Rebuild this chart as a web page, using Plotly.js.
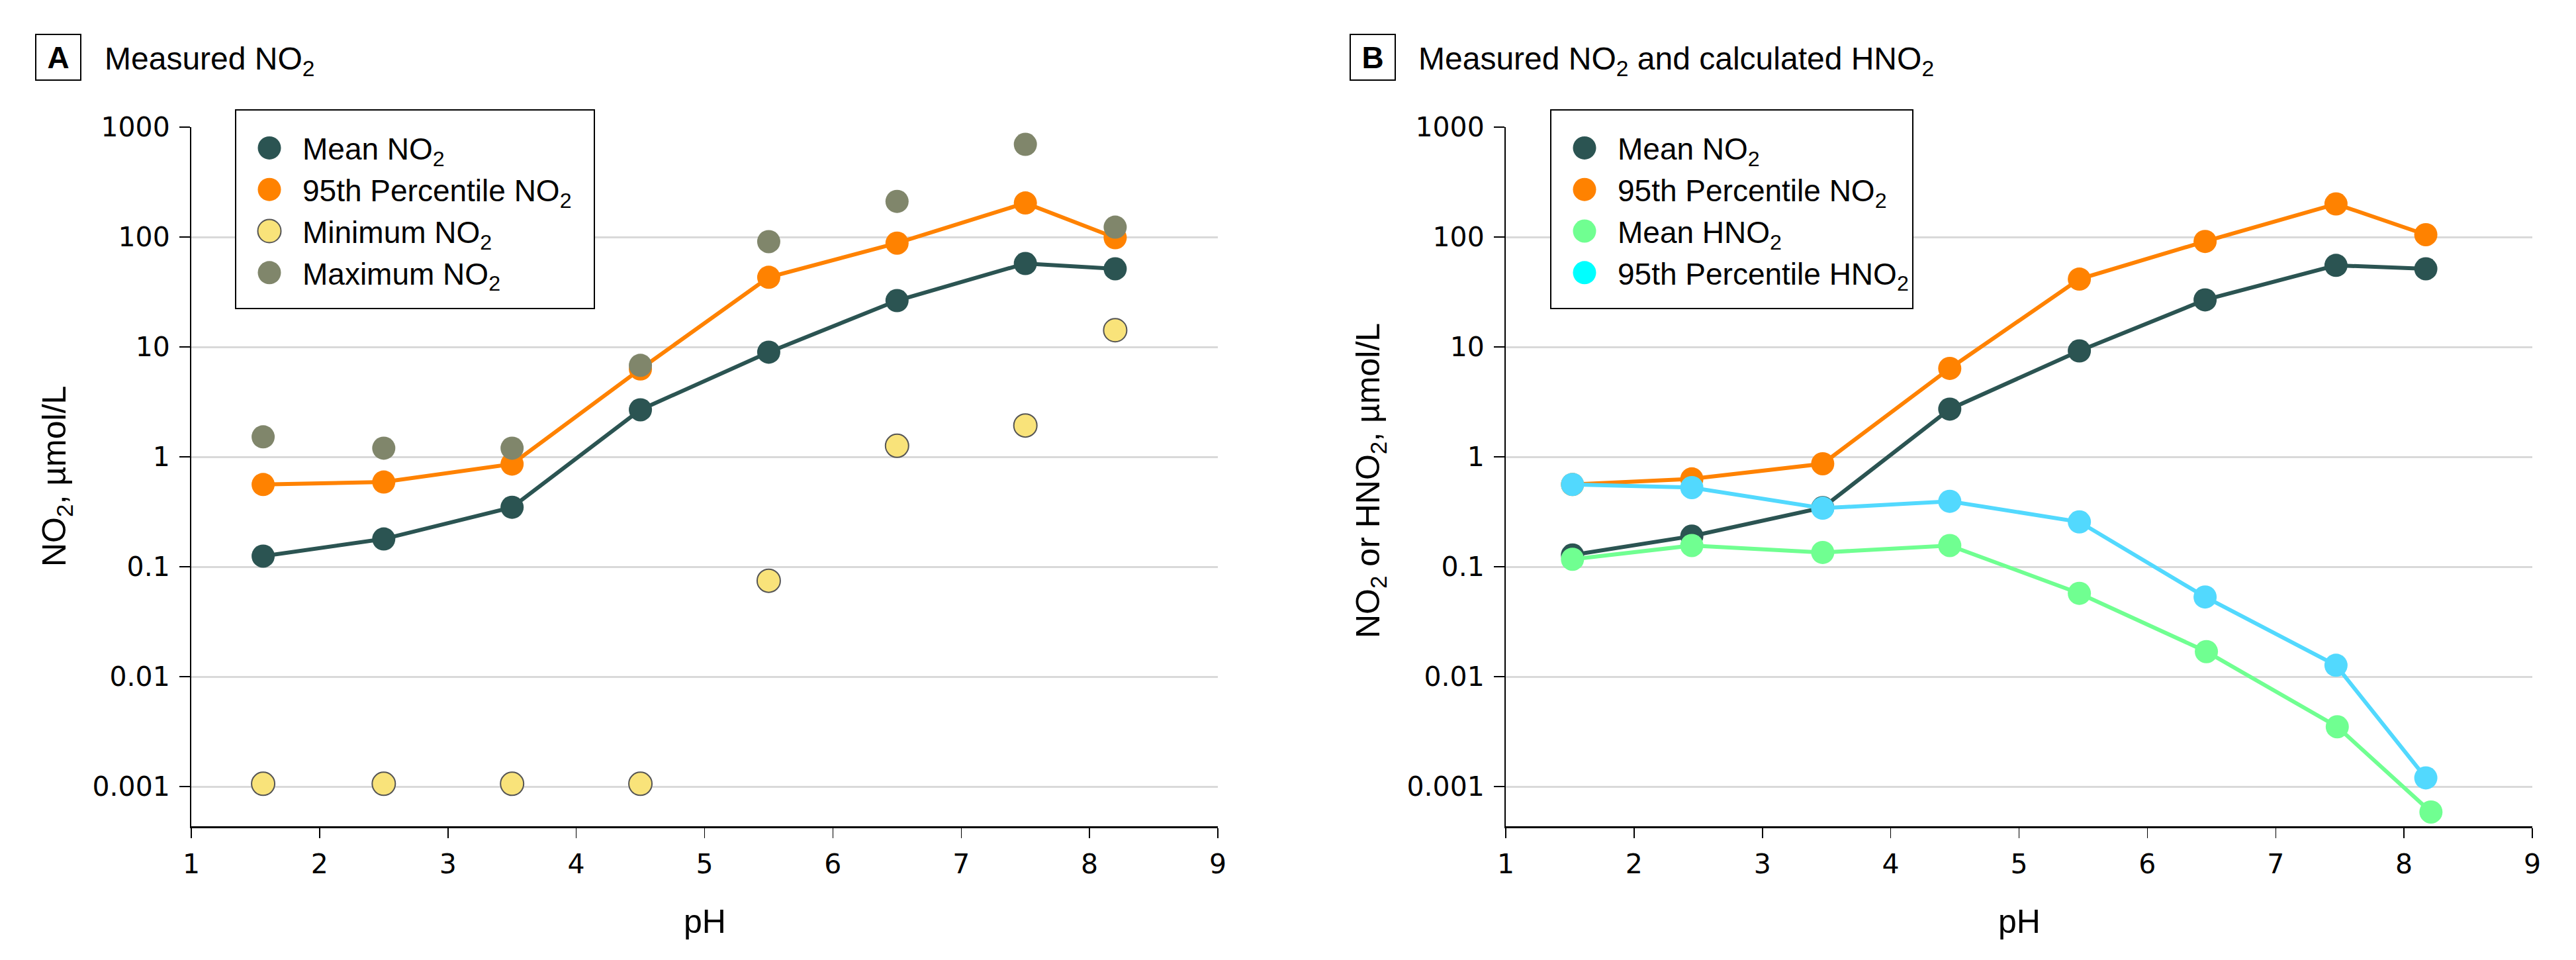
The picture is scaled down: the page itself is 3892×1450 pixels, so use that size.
<!DOCTYPE html>
<html>
<head>
<meta charset="utf-8">
<script src="https://cdn.plot.ly/plotly-3.0.1.min.js"></script>
<style>
  html, body { margin: 0; padding: 0; background: #ffffff; }
  #chart { width: 3892px; height: 1450px; }
</style>
</head>
<body>
<div id="chart"></div>
<script>
// ---- Panel A data ----
const pH_A = [1.56, 2.5, 3.5, 4.5, 5.5, 6.5, 7.5, 8.2];
const meanNO2_A = [0.125, 0.179, 0.348, 2.68, 8.96, 26.4, 57.4, 51.4];
const p95NO2_A = [0.56, 0.59, 0.86, 6.3, 43, 88, 204, 98.6];
const minNO2_A = [0.00106, 0.00106, 0.00106, 0.00106, 0.0746, 1.26, 1.93, 14.2];
const maxNO2_A = [1.52, 1.2, 1.2, 6.8, 90.8, 211, 697, 123];

// ---- Panel B data ----
const pH_B = [1.52, 2.45, 3.47, 4.46, 5.47, 6.45, 7.47, 8.17];
const pH_B_meanHNO2 = [1.52, 2.45, 3.47, 4.46, 5.47, 6.46, 7.48, 8.21];
const meanNO2_B = [0.128, 0.19, 0.345, 2.72, 9.2, 26.8, 55.2, 51.4];
const p95NO2_B = [0.56, 0.63, 0.865, 6.38, 41.4, 91.2, 200, 105];
const meanHNO2_B = [0.117, 0.156, 0.135, 0.156, 0.0573, 0.0169, 0.0035, 0.000587];
const p95HNO2_B = [0.561, 0.525, 0.341, 0.394, 0.256, 0.0531, 0.0127, 0.0012];

// ---- Axis ticks ----
const xTicks = [1, 2, 3, 4, 5, 6, 7, 8, 9];
const yTickVals = [0.001, 0.01, 0.1, 1, 10, 100, 1000];
const yTickText = ["0.001", "0.01", "0.1", "1", "10", "100", "1000"];

// ---- Labels ----
const namesA = ["Mean NO<sub>2</sub>", "95th Percentile NO<sub>2</sub>", "Minimum NO<sub>2</sub>", "Maximum NO<sub>2</sub>"];
const namesB = ["Mean NO<sub>2</sub>", "95th Percentile NO<sub>2</sub>", "Mean HNO<sub>2</sub>", "95th Percentile HNO<sub>2</sub>"];

const C_MEAN = "#2b5452", C_P95 = "#ff8200", C_MIN = "#f9e37a", C_MAX = "#80866b",
      C_HMEAN = "#70ff91", C_HP95 = "#52d9fe", C_HP95_LEG = "#00ffff";

const MS = 35, LW = 6;
const FONT = "Liberation Sans, Arial, sans-serif";
const TICKFONT = "DejaVu Sans, sans-serif";

function lineTrace(x, y, name, color, xa, ya, leg, grp) {
  return { x: x, y: y, name: name, type: "scatter", mode: "lines+markers",
    line: { color: color, width: LW },
    marker: { color: color, size: MS, line: { width: 0 } },
    xaxis: xa, yaxis: ya, legend: leg, legendgroup: grp, hoverinfo: "x+y" };
}
function dotTrace(x, y, name, color, outline, xa, ya, leg, grp) {
  return { x: x, y: y, name: name, type: "scatter", mode: "markers",
    marker: { color: color, size: MS, line: { width: outline ? 2 : 0, color: "#555555" } },
    xaxis: xa, yaxis: ya, legend: leg, legendgroup: grp, hoverinfo: "x+y" };
}

const data = [
  lineTrace(pH_A, meanNO2_A, namesA[0], C_MEAN, "x", "y", "legend", "a1"),
  lineTrace(pH_A, p95NO2_A, namesA[1], C_P95, "x", "y", "legend", "a2"),
  dotTrace(pH_A, minNO2_A, namesA[2], C_MIN, true, "x", "y", "legend", "a3"),
  dotTrace(pH_A, maxNO2_A, namesA[3], C_MAX, false, "x", "y", "legend", "a4"),
  lineTrace(pH_B, meanNO2_B, namesB[0], C_MEAN, "x2", "y2", "legend2", "b1"),
  lineTrace(pH_B, p95NO2_B, namesB[1], C_P95, "x2", "y2", "legend2", "b2"),
  lineTrace(pH_B_meanHNO2, meanHNO2_B, namesB[2], C_HMEAN, "x2", "y2", "legend2", "b3"),
  lineTrace(pH_B, p95HNO2_B, namesB[3], C_HP95, "x2", "y2", "legend2", "b4")
];

const W = 3892, H = 1450;
const yTop = 192, yBot = 1248;
const xA0 = 289, xA1 = 1840, xB0 = 2275, xB1 = 3826;
const yDom = [1 - yBot / H, 1 - yTop / H];
const yRange = [-3.361, 3];
const PAD_TOP = 20, PAD_BOT = 16, PAD_RIGHT = 34;

function xAxis(dom, anchor) {
  return { domain: [dom[0] / W, dom[1] / W], anchor: anchor, range: [1, 9],
    tickvals: xTicks, ticktext: xTicks.map(String), showgrid: false, zeroline: false,
    showline: true, linecolor: "#000", linewidth: 3, ticks: "outside", ticklen: 15,
    tickwidth: 1.5, tickcolor: "#000", tickfont: { family: TICKFONT, size: 41, color: "#000" },
    ticklabelstandoff: 4, fixedrange: true };
}
function yAxis(anchor) {
  return { domain: yDom, anchor: anchor, type: "log", range: yRange,
    tickvals: yTickVals, ticktext: yTickText, showgrid: true, gridcolor: "#d9d9d9", gridwidth: 3,
    zeroline: false, showline: true, linecolor: "#000", linewidth: 2, ticks: "outside",
    ticklen: 16, tickwidth: 2, tickcolor: "#000",
    tickfont: { family: TICKFONT, size: 41, color: "#000" }, ticklabelstandoff: 6, fixedrange: true };
}

function legendCfg(xpx) {
  return { x: xpx / W, y: 1 - (165 + PAD_TOP) / H, xanchor: "left", yanchor: "top",
    bgcolor: "#ffffff", bordercolor: "#000000", borderwidth: 2,
    font: { family: FONT, size: 46, color: "#000" }, itemwidth: 90,
    tracegroupgap: 12, traceorder: "normal", itemclick: false, itemdoubleclick: false };
}

const annotations = [
  { xref: "paper", yref: "paper", x: 88 / W, y: 1 - 86.5 / H, xanchor: "center", yanchor: "middle",
    text: "<b>A</b>", showarrow: false, font: { family: FONT, size: 46, color: "#000" },
    width: 66, height: 67, borderwidth: 2, bordercolor: "#000", borderpad: 0 },
  { xref: "paper", yref: "paper", x: 156 / W, y: 1 - 92 / H, xanchor: "left", yanchor: "middle",
    text: "Measured NO<sub>2</sub>", showarrow: false, font: { family: FONT, size: 48, color: "#000" } },
  { xref: "paper", yref: "paper", x: 2074 / W, y: 1 - 86.5 / H, xanchor: "center", yanchor: "middle",
    text: "<b>B</b>", showarrow: false, font: { family: FONT, size: 46, color: "#000" },
    width: 66, height: 67, borderwidth: 2, bordercolor: "#000", borderpad: 0 },
  { xref: "paper", yref: "paper", x: 2141 / W, y: 1 - 92 / H, xanchor: "left", yanchor: "middle",
    text: "Measured NO<sub>2</sub> and calculated HNO<sub>2</sub>", showarrow: false,
    font: { family: FONT, size: 48, color: "#000" } },
  // axis titles
  { xref: "paper", yref: "paper", x: 85 / W, y: 1 - 720 / H, xanchor: "center", yanchor: "middle",
    textangle: -90, text: "NO<sub>2</sub>, µmol/L", showarrow: false,
    font: { family: FONT, size: 50, color: "#000" } },
  { xref: "paper", yref: "paper", x: 2070 / W, y: 1 - 726 / H, xanchor: "center", yanchor: "middle",
    textangle: -90, text: "NO<sub>2</sub> or HNO<sub>2</sub>, µmol/L", showarrow: false,
    font: { family: FONT, size: 50, color: "#000" } },
  { xref: "paper", yref: "paper", x: (xA0 + xA1) / 2 / W, y: 1 - 1392 / H, xanchor: "center", yanchor: "middle",
    text: "pH", showarrow: false, font: { family: FONT, size: 50, color: "#000" } },
  { xref: "paper", yref: "paper", x: (xB0 + xB1) / 2 / W, y: 1 - 1392 / H, xanchor: "center", yanchor: "middle",
    text: "pH", showarrow: false, font: { family: FONT, size: 50, color: "#000" } }
];

const layout = {
  width: W, height: H, margin: { l: 0, r: 0, t: 0, b: 0 },
  paper_bgcolor: "#ffffff", plot_bgcolor: "#ffffff",
  showlegend: true,
  xaxis: xAxis([xA0, xA1], "y"),
  yaxis: yAxis("x"),
  xaxis2: xAxis([xB0, xB1], "y2"),
  yaxis2: yAxis("x2"),
  legend: legendCfg(355),
  legend2: legendCfg(2342),
  annotations: annotations,
  font: { family: FONT, color: "#000" }
};

Plotly.newPlot("chart", data, layout, { staticPlot: true, displayModeBar: false }).then(function () {
  // hide legend line samples, enlarge legend markers to match the reference
  document.querySelectorAll(".legendlines path").forEach(function (p) { p.style.display = "none"; });
  const r = MS / 2;
  const circ = "M" + r + ",0A" + r + "," + r + " 0 1,1 0,-" + r + "A" + r + "," + r + " 0 0,1 " + r + ",0Z";
  document.querySelectorAll(".legendpoints path.scatterpts").forEach(function (p) {
    p.setAttribute("d", circ);
  });
  // brighter cyan swatch for the 95th percentile HNO2 legend entry (as in reference)
  document.querySelectorAll("g.traces").forEach(function (g) {
    const d = g.__data__;
    const tr = d && d[0] && d[0].trace;
    let isTarget = tr && tr.name === namesB[3];
    if (!isTarget) {
      const t = g.querySelector("text.legendtext");
      const s = t ? t.textContent.replace(/\s+/g, " ") : "";
      isTarget = s.indexOf("HNO") >= 0 && s.indexOf("95th") >= 0;
    }
    if (isTarget) {
      g.querySelectorAll(".legendpoints path.scatterpts").forEach(function (pt) {
        pt.style.fill = C_HP95_LEG;
        pt.setAttribute("fill", C_HP95_LEG);
      });
    }
  });
  // extra inner padding in the legend boxes
  document.querySelectorAll("rect.bg").forEach(function (bg) {
    const par = bg.parentNode;
    if (!par || !par.querySelector(".scrollbox")) return;
    const y0 = parseFloat(bg.getAttribute("y") || "0");
    const h0 = parseFloat(bg.getAttribute("height") || "0");
    bg.setAttribute("y", y0 - PAD_TOP);
    bg.setAttribute("height", h0 + PAD_TOP + PAD_BOT);
    const bgBox = bg.getBoundingClientRect();
    let maxR = bgBox.left;
    par.querySelectorAll("text.legendtext").forEach(function (t) {
      const rb = t.getBoundingClientRect();
      if (rb.right > maxR) maxR = rb.right;
    });
    const w0 = parseFloat(bg.getAttribute("width") || "0");
    const wNew = maxR - bgBox.left + PAD_RIGHT;
    if (wNew > w0) bg.setAttribute("width", wNew);
  });
});
</script>
</body>
</html>
